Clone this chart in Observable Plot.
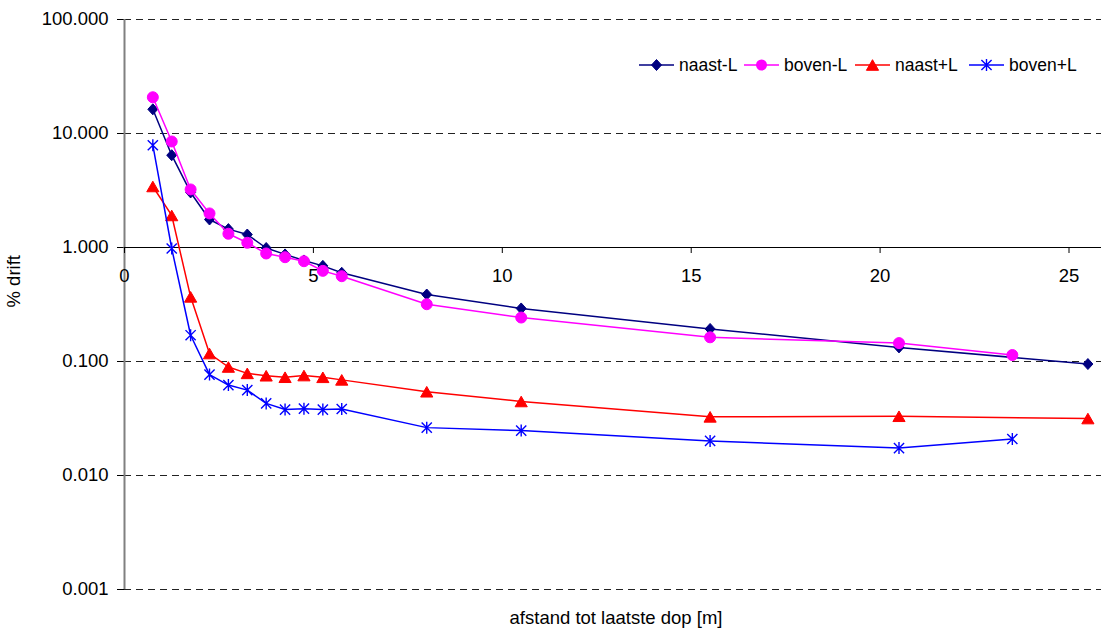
<!DOCTYPE html>
<html>
<head>
<meta charset="utf-8">
<script src="https://cdn.jsdelivr.net/npm/d3@7"></script>
<script src="https://cdn.jsdelivr.net/npm/@observablehq/plot@0.6"></script>
<style>
  html, body { margin: 0; padding: 0; background: #fff; }
  #chart { position: relative; width: 1101px; height: 635px; font-family: "Liberation Sans", Arial, sans-serif; }
  #chart svg { display: block; }
  .legend-item { position: absolute; top: 53px; height: 24px; display: flex; align-items: center; font-size: 17.5px; color: #000; white-space: nowrap; }
  .legend-item svg { margin-right: 5px; }
</style>
</head>
<body>
<div id="chart"></div>
<script>
// Distance to the last nozzle [m]
const distance = [0.75, 1.25, 1.75, 2.25, 2.75, 3.25, 3.75, 4.25, 4.75, 5.25, 5.75, 8, 10.5, 15.5, 20.5, 23.5, 25.5];

// % drift per configuration (null = not measured)
const naastMin  = [16.3, 6.45, 3.04, 1.76, 1.45, 1.30, 0.99, 0.87, 0.77, 0.69, 0.60, 0.387, 0.292, 0.193, 0.133, null, 0.095];
const bovenMin  = [20.8, 8.51, 3.23, 1.99, 1.32, 1.10, 0.886, 0.822, 0.758, 0.624, 0.56, 0.318, 0.243, 0.163, 0.145, 0.114, null];
const naastPlus = [3.43, 1.91, 0.369, 0.1175, 0.0895, 0.0787, 0.075, 0.0728, 0.0753, 0.0727, 0.069, 0.0543, 0.0446, 0.0327, 0.0331, null, 0.0316];
const bovenPlus = [7.89, 0.98, 0.170, 0.0768, 0.0621, 0.0561, 0.0429, 0.0379, 0.0386, 0.0379, 0.0383, 0.0263, 0.0248, 0.0201, 0.0174, 0.0209, null];

const seriesNames  = ["naast-L", "boven-L", "naast+L", "boven+L"];
const seriesValues = [naastMin, bovenMin, naastPlus, bovenPlus];
const seriesColors = ["#000080", "#FF00FF", "#FF0000", "#0000FF"];

const yTicks = [0.001, 0.01, 0.1, 1, 10, 100];
const xTicks = [0, 5, 10, 15, 20, 25];

const xLabel = "afstand tot laatste dop [m]";
const yLabel = "% drift";

// Marker shapes
const diamond = {draw(ctx, size) {
  const r = Math.sqrt(size / Math.PI);
  ctx.moveTo(0, -r * 1.1); ctx.lineTo(r, 0); ctx.lineTo(0, r * 1.1); ctx.lineTo(-r, 0); ctx.closePath();
}};
const triangle = {draw(ctx, size) {
  const r = Math.sqrt(size / Math.PI);
  ctx.moveTo(0, -r); ctx.lineTo(r * 1.15, r); ctx.lineTo(-r * 1.15, r); ctx.closePath();
}};
const star = {draw(ctx, size) {
  const r = Math.sqrt(size / Math.PI), d = r * 0.85;
  ctx.moveTo(0, -r); ctx.lineTo(0, r);
  ctx.moveTo(-d, -d); ctx.lineTo(d, d);
  ctx.moveTo(-d, d); ctx.lineTo(d, -d);
}};
const markers = [
  {symbol: diamond, r: 5, filled: true},
  {symbol: "circle", r: 5.5, filled: true},
  {symbol: triangle, r: 5.3, filled: true},
  {symbol: star, r: 6, filled: false}
];

const rowsFor = (values) => distance
  .map((x, i) => ({x, y: values[i]}))
  .filter(d => d.y != null);

const seriesMarks = seriesValues.flatMap((values, k) => {
  const rows = rowsFor(values);
  const color = seriesColors[k];
  const m = markers[k];
  return [
    Plot.line(rows, {x: "x", y: "y", stroke: color, strokeWidth: 1.5}),
    Plot.dot(rows, {
      x: "x", y: "y", r: m.r, symbol: m.symbol,
      fill: m.filled ? color : "none", stroke: color,
      strokeWidth: m.filled ? 1 : 1.4
    })
  ];
});

const chart = Plot.plot({
  width: 1101,
  height: 635,
  marginLeft: 124,
  marginRight: 0,
  marginTop: 19,
  marginBottom: 46,
  style: {fontFamily: "'Liberation Sans', Arial, sans-serif", fontSize: "18.5px", color: "#000", background: "#fff", overflow: "visible"},
  x: {domain: [0, 25.86], axis: null},
  y: {
    type: "log", domain: [0.001, 100],
    ticks: yTicks, tickFormat: d3.format(".3f"),
    tickSize: 7, tickPadding: 9, label: null
  },
  marks: [
    // dashed horizontal gridlines
    Plot.ruleY(yTicks.filter(v => v !== 1), {stroke: "#222", strokeWidth: 1, strokeDasharray: "7,5"}),
    // vertical axis line
    Plot.ruleX([0], {stroke: "#808080", strokeWidth: 2}),
    // horizontal axis crossing at 1
    Plot.ruleY([1], {stroke: "#000", strokeWidth: 1}),
    Plot.ruleX(xTicks, {x: d => d, y1: () => 1, y2: () => 1, insetBottom: -6, stroke: "#000", strokeWidth: 1}),
    Plot.text(xTicks, {x: d => d, y: () => 1, dy: 29, text: d => String(d)}),
    ...seriesMarks,
    Plot.text([xLabel], {frameAnchor: "bottom", dx: 3, dy: 34, text: d => d}),
    Plot.text([yLabel], {frameAnchor: "left", rotate: -90, dx: -110, dy: 3, text: d => d})
  ]
});

const root = document.getElementById("chart");
root.appendChild(chart);

// Legend overlaid in the upper right of the plot area
const legendLeft = [639, 744, 855, 969];
seriesNames.forEach((name, k) => {
  const item = document.createElement("div");
  item.className = "legend-item";
  item.style.left = legendLeft[k] + "px";
  const color = seriesColors[k];
  const m = markers[k];
  const svg = d3.create("svg").attr("width", 35).attr("height", 24);
  svg.append("line").attr("x1", 0).attr("x2", 35).attr("y1", 12).attr("y2", 12)
    .attr("stroke", color).attr("stroke-width", 1.5);
  if (m.symbol === "circle") {
    svg.append("circle").attr("cx", 17.5).attr("cy", 12).attr("r", m.r).attr("fill", color);
  } else {
    const p = d3.path();
    m.symbol.draw(p, Math.PI * m.r * m.r);
    svg.append("path").attr("transform", "translate(17.5,12)").attr("d", p.toString())
      .attr("fill", m.filled ? color : "none").attr("stroke", color).attr("stroke-width", m.filled ? 1 : 1.4);
  }
  item.appendChild(svg.node());
  const label = document.createElement("span");
  label.textContent = name;
  item.appendChild(label);
  root.appendChild(item);
});
</script>
</body>
</html>
